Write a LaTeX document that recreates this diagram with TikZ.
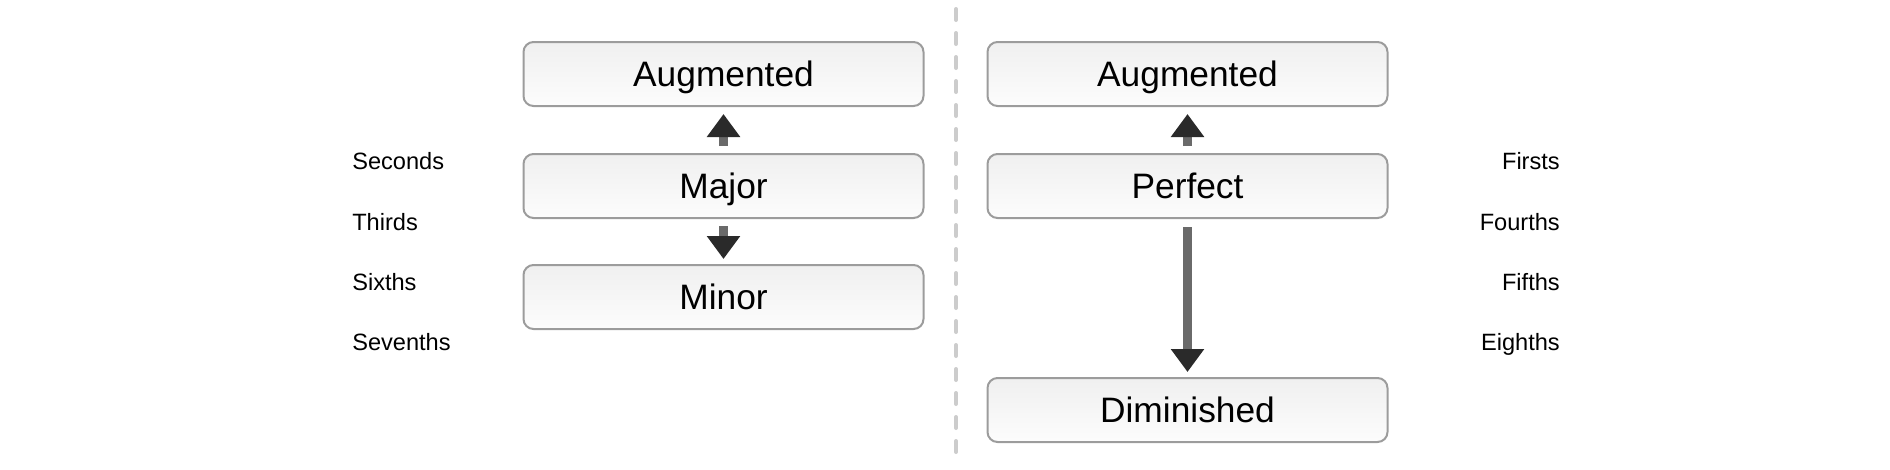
\documentclass[tikz,border=0pt]{standalone}
\usepackage{fontspec}
\setmainfont{Liberation Sans}
\usetikzlibrary{arrows.meta}
\definecolor{boxborder}{HTML}{9C9C9C}
\definecolor{shaftcol}{HTML}{6A6A6A}
\definecolor{headcol}{HTML}{2A2A2A}
\definecolor{dashcol}{HTML}{CCCCCC}
\tikzset{
  qualbox/.style={draw=boxborder, line width=1.5pt, rounded corners=7.5pt,
    top color=white!94!black, bottom color=white!99!black,
    minimum width=300pt, minimum height=48pt, inner sep=0pt,
    text height=19pt, text depth=0pt,
    font=\fontsize{26.5pt}{30pt}\selectfont},
  sidelabel/.style={inner sep=0pt, text height=12.7pt, text depth=0pt,
    font=\fontsize{17.7pt}{20pt}\selectfont},
  bigarrow/.style={draw=shaftcol, line width=6.5pt,
    -{Triangle[width=24pt,length=17.25pt,fill=headcol,color=headcol]},
    shorten >=5.25pt, shorten <=5.25pt},
  divider/.style={draw=dashcol, line width=3pt, line cap=round,
    dash pattern=on 8.25pt off 9.75pt}
}
\begin{document}
\begin{tikzpicture}[x=0.75pt,y=-0.75pt]
\useasboundingbox (0,0) rectangle (1890,469);
% divider
\coordinate (dtop) at (956,9);
\coordinate (dbot) at (956,462);
\draw[divider] (dtop) -- (dbot);
% left column
\node[qualbox] (augL) at (723.5,74) {Augmented};
\node[qualbox] (majL) at (723.5,186) {Major};
\node[qualbox] (minL) at (723.5,297) {Minor};
% right column
\node[qualbox] (augR) at (1187.5,74) {Augmented};
\node[qualbox] (perR) at (1187.5,186) {Perfect};
\node[qualbox] (dimR) at (1187.5,410) {Diminished};
% arrows
\draw[bigarrow] (majL.north) -- (augL.south);
\draw[bigarrow, shorten <=5.25pt, shorten >=3.75pt] (majL.south) -- (minL.north);
\draw[bigarrow] (perR.north) -- (augR.south);
\draw[bigarrow, shorten <=6pt, shorten >=3.75pt] (perR.south) -- (dimR.north);
% left labels
\node[sidelabel, anchor=west] (l1) at (352,161.5) {Seconds};
\node[sidelabel, anchor=west] (l2) at (352,221.8) {Thirds};
\node[sidelabel, anchor=west] (l3) at (352,282) {Sixths};
\node[sidelabel, anchor=west] (l4) at (352,342.3) {Sevenths};
% right labels
\node[sidelabel, anchor=east] (r1) at (1560,161.5) {Firsts};
\node[sidelabel, anchor=east] (r2) at (1560,221.8) {Fourths};
\node[sidelabel, anchor=east] (r3) at (1560,282) {Fifths};
\node[sidelabel, anchor=east] (r4) at (1560,342.3) {Eighths};
\end{tikzpicture}
\end{document}
